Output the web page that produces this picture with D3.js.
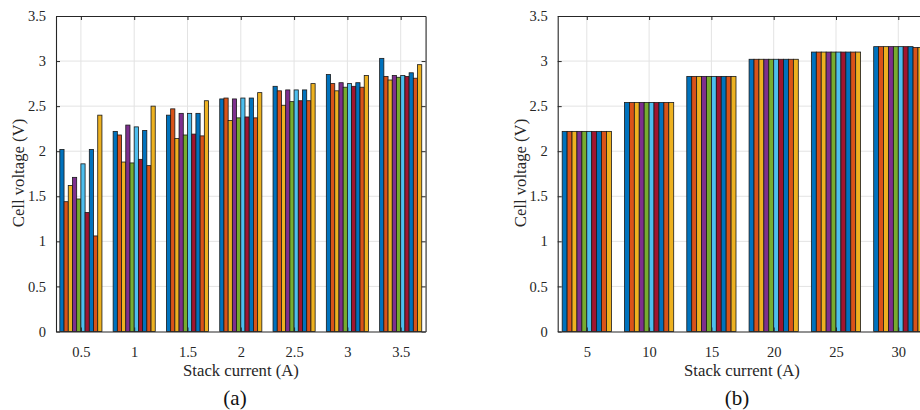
<!DOCTYPE html>
<html>
<head>
<meta charset="utf-8">
<script src="https://cdn.jsdelivr.net/npm/d3@7"></script>
<style>
  body { margin: 0; background: #fff; }
</style>
</head>
<body>
<div id="chart"></div>
<script>
// Panel (a): stack current 0.5 .. 3.5 A, ten cells per group
var currentsA = [0.5, 1, 1.5, 2, 2.5, 3, 3.5];
var tickLabelsA = ["0.5", "1", "1.5", "2", "2.5", "3", "3.5"];
var cellsA = [
    [2.02, 1.44, 1.62, 1.71, 1.47, 1.86, 1.32, 2.02, 1.06, 2.40],
    [2.22, 2.18, 1.88, 2.29, 1.87, 2.27, 1.91, 2.23, 1.84, 2.50],
    [2.40, 2.47, 2.14, 2.42, 2.18, 2.42, 2.19, 2.42, 2.17, 2.56],
    [2.58, 2.59, 2.34, 2.58, 2.37, 2.59, 2.38, 2.59, 2.37, 2.65],
    [2.72, 2.67, 2.51, 2.68, 2.55, 2.68, 2.56, 2.68, 2.56, 2.75],
    [2.85, 2.75, 2.67, 2.76, 2.71, 2.75, 2.72, 2.76, 2.71, 2.84],
    [3.03, 2.83, 2.79, 2.84, 2.82, 2.84, 2.83, 2.87, 2.81, 2.96]
];

// Panel (b): stack current 5 .. 30 A (axis runs on past the picture edge)
var currentsB = [5, 10, 15, 20, 25, 30];
var tickLabelsB = ["5", "10", "15", "20", "25", "30"];
var cellsB = [
    [2.22, 2.22, 2.22, 2.22, 2.22, 2.22, 2.22, 2.22, 2.22, 2.22],
    [2.54, 2.54, 2.54, 2.54, 2.54, 2.54, 2.54, 2.54, 2.54, 2.54],
    [2.83, 2.83, 2.83, 2.83, 2.83, 2.83, 2.83, 2.83, 2.83, 2.83],
    [3.02, 3.02, 3.02, 3.02, 3.02, 3.02, 3.02, 3.02, 3.02, 3.02],
    [3.10, 3.10, 3.10, 3.10, 3.10, 3.10, 3.10, 3.10, 3.10, 3.10],
    [3.16, 3.16, 3.16, 3.16, 3.16, 3.16, 3.16, 3.16, 3.15, 3.15]
];

var yTicks = [0, 0.5, 1, 1.5, 2, 2.5, 3, 3.5];
var cellColors = ["#0072BD", "#D95319", "#EDB120", "#7E2F8E", "#77AC30",
                  "#4DBEEE", "#A2142F", "#0072BD", "#D95319", "#EDB120"];

var serif = "'Liberation Serif', serif";
var axisColor = "#262626";

var svg = d3.select("#chart").append("svg")
    .attr("width", 920)
    .attr("height", 410);

var plotTop = 16, plotBottom = 331.5;

function drawPanel(opt) {
    var step = opt.cats[1] - opt.cats[0];
    var pad = 0.467 * step;
    var x = d3.scaleLinear()
        .domain([opt.cats[0] - pad, opt.xMax + pad])
        .range([opt.left, opt.left + opt.pxPerStep * (opt.xMax - opt.cats[0] + 2 * pad) / step]);
    var y = d3.scaleLinear().domain([0, 3.5]).range([plotBottom, plotTop]);
    var right = x.range()[1];

    var groupW = 0.79 * step;
    var inner = d3.scaleBand()
        .domain(d3.range(10))
        .range([-groupW / 2, groupW / 2]);

    var g = svg.append("g");

    // grid
    g.append("g").selectAll("line")
        .data(yTicks.slice(1, -1))
        .enter().append("line")
        .attr("x1", opt.left).attr("x2", right)
        .attr("y1", function(d) { return y(d); })
        .attr("y2", function(d) { return y(d); })
        .attr("stroke", "#e3e3e3").attr("stroke-width", 1);
    g.append("g").selectAll("line")
        .data(opt.cats)
        .enter().append("line")
        .attr("x1", function(d) { return x(d); })
        .attr("x2", function(d) { return x(d); })
        .attr("y1", plotTop).attr("y2", plotBottom)
        .attr("stroke", "#e3e3e3").attr("stroke-width", 1);

    // bars
    var groups = g.append("g").selectAll("g")
        .data(opt.values)
        .enter().append("g");
    groups.selectAll("rect")
        .data(function(d, i) {
            return d.map(function(v, j) { return {cat: opt.cats[i], v: v, j: j}; });
        })
        .enter().append("rect")
        .attr("x", function(d) { return x(d.cat + inner(d.j)); })
        .attr("width", function(d) { return x(d.cat + inner.bandwidth()) - x(d.cat); })
        .attr("y", function(d) { return y(d.v); })
        .attr("height", function(d) { return y(0) - y(d.v); })
        .attr("fill", function(d) { return cellColors[d.j]; })
        .attr("stroke", "#1a1a1a")
        .attr("stroke-width", 0.8);

    // axes (box with inward ticks)
    var xB = g.append("g").attr("transform", "translate(0," + plotBottom + ")")
        .call(d3.axisBottom(x).tickValues(opt.cats)
            .tickFormat(function(d, i) { return opt.labels[i]; })
            .tickSizeInner(-4).tickSizeOuter(0).tickPadding(15));
    var xT = g.append("g").attr("transform", "translate(0," + plotTop + ")")
        .call(d3.axisTop(x).tickValues(opt.cats).tickFormat("")
            .tickSizeInner(-4).tickSizeOuter(0));
    var yL = g.append("g").attr("transform", "translate(" + opt.left + ",0)")
        .call(d3.axisLeft(y).tickValues(yTicks).tickFormat(d3.format("~g"))
            .tickSizeInner(-4).tickSizeOuter(0).tickPadding(10));
    var yR = g.append("g").attr("transform", "translate(" + right + ",0)")
        .call(d3.axisRight(y).tickValues(yTicks).tickFormat("")
            .tickSizeInner(-4).tickSizeOuter(0));
    [xB, xT, yL, yR].forEach(function(a) {
        a.attr("font-family", serif).attr("font-size", 14.5);
        a.select(".domain").attr("stroke", axisColor).attr("stroke-width", 1.1);
        a.selectAll(".tick line").attr("stroke", axisColor).attr("stroke-width", 1);
        a.selectAll("text").attr("fill", axisColor);
    });

    // titles
    g.append("text")
        .attr("x", opt.titleX).attr("y", 376)
        .attr("text-anchor", "middle")
        .attr("font-family", serif).attr("font-size", 16.7).attr("fill", axisColor)
        .text("Stack current (A)");
    g.append("text")
        .attr("transform", "translate(" + opt.ylabelX + "," + 173 + ") rotate(-90)")
        .attr("text-anchor", "middle")
        .attr("dominant-baseline", "central")
        .attr("font-family", serif).attr("font-size", 16.7).attr("fill", axisColor)
        .text("Cell voltage (V)");
    g.append("text")
        .attr("x", opt.captionX).attr("y", 405)
        .attr("text-anchor", "middle")
        .attr("font-family", serif).attr("font-size", 21).attr("fill", "#111")
        .text(opt.caption);
}

drawPanel({cats: currentsA, xMax: 3.5, labels: tickLabelsA, values: cellsA,
           left: 56, pxPerStep: 53.3, titleX: 241, ylabelX: 18, captionX: 235, caption: "(a)"});
drawPanel({cats: currentsB, xMax: 35, labels: tickLabelsB, values: cellsB,
           left: 557.7, pxPerStep: 62.3, titleX: 742, ylabelX: 520, captionX: 737, caption: "(b)"});
</script>
</body>
</html>
